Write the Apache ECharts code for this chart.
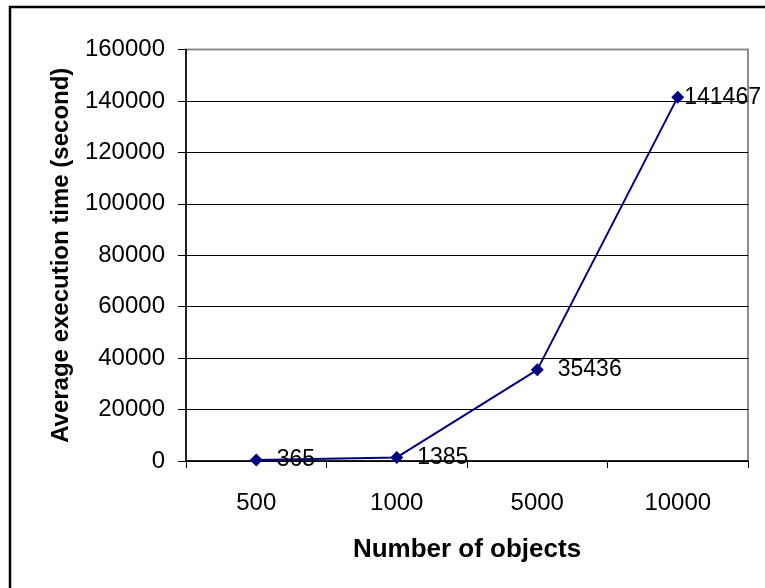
<!DOCTYPE html>
<html>
<head>
<meta charset="utf-8">
<script src="https://cdn.jsdelivr.net/npm/echarts@6/dist/echarts.min.js"></script>
<style>
html,body{margin:0;padding:0;background:#fff;}
#chart{width:765px;height:588px;}
</style>
</head>
<body>
<div id="chart"></div>
<script>
const categories = ['500', '1000', '5000', '10000'];
const execTimes = [365, 1385, 35436, 141467];
const yTicks = [0, 20000, 40000, 60000, 80000, 100000, 120000, 140000, 160000];

const FONT = 'Liberation Sans, Arial, sans-serif';
const chart = echarts.init(document.getElementById('chart'));

const seriesData = execTimes.map((v, i) => ({
  value: v,
  label: { distance: i === execTimes.length - 1 ? 0 : 14 }
}));

chart.setOption({
  animation: false,
  backgroundColor: '#fff',
  textStyle: { fontFamily: FONT },
  graphic: [{
    type: 'rect',
    shape: { x: 10, y: 7, width: 800, height: 700 },
    style: { fill: 'none', stroke: '#000', lineWidth: 2.5 },
    silent: true, z: -10
  }],
  grid: {
    left: 186, right: 17, top: 49.5, bottom: 127,
    show: true, borderColor: '#8c8c8c', borderWidth: 2, backgroundColor: 'transparent'
  },
  xAxis: {
    type: 'category',
    data: categories,
    boundaryGap: true,
    name: 'Number of objects',
    nameLocation: 'middle',
    nameGap: 76,
    nameTextStyle: { fontSize: 26, fontWeight: 'bold', color: '#000', fontFamily: FONT },
    axisLine: { lineStyle: { color: '#000', width: 1.5 } },
    axisTick: { show: true, length: 7, alignWithLabel: false, lineStyle: { color: '#000', width: 1 } },
    axisLabel: { fontSize: 24, color: '#000', margin: 30, fontFamily: FONT },
    splitLine: { show: false }
  },
  yAxis: {
    type: 'value',
    min: yTicks[0],
    max: yTicks[yTicks.length - 1],
    interval: yTicks[1] - yTicks[0],
    name: 'Average execution time (second)',
    nameLocation: 'middle',
    nameGap: 113,
    nameRotate: 90,
    nameTextStyle: { fontSize: 24, fontWeight: 'bold', color: '#000', fontFamily: FONT },
    axisLine: { show: true, lineStyle: { color: '#000', width: 1.5 } },
    axisTick: { show: true, length: 8, lineStyle: { color: '#000', width: 1 } },
    axisLabel: { fontSize: 24, color: '#000', margin: 21, fontFamily: FONT, formatter: v => String(v) },
    splitLine: { show: true, showMaxLine: false, lineStyle: { color: '#000', width: 1 } }
  },
  series: [{
    type: 'line',
    data: seriesData,
    symbol: 'diamond',
    symbolSize: 13,
    itemStyle: { color: '#000080' },
    lineStyle: { color: '#000080', width: 2 },
    label: {
      show: true,
      position: 'right',
      fontSize: 23,
      color: '#000',
      fontFamily: FONT
    },
    z: 5
  }]
});
</script>
</body>
</html>
